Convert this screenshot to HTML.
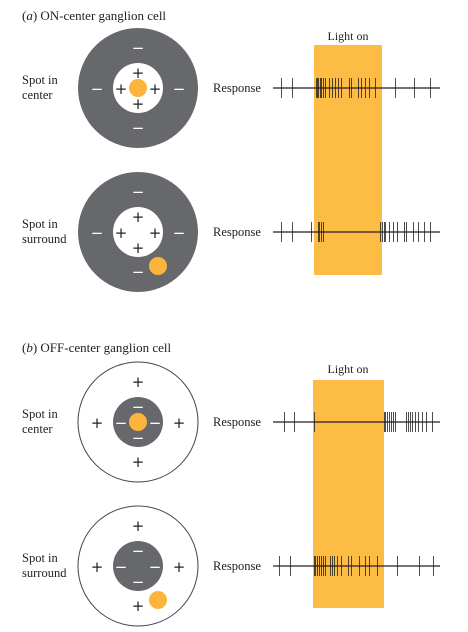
<!DOCTYPE html>
<html><head><meta charset="utf-8"><style>
html,body{margin:0;padding:0;background:#fff}
svg{display:block}
text{font-family:"Liberation Serif",serif;fill:#222}
</style></head><body>
<svg width="468" height="632" viewBox="0 0 468 632">
<g id="g"></g>
</svg>
<script>
const rowY=[88,232,422,566];
const row1Spikes=[281,292,316,317,318,320,321,323,325,329,332,335,338,341,349,351,358,361,365,369,375,395,414,430];
const row2Spikes=[281,292,311,318,319,321,323,380,382,384,385,389,393,397,404,406,413,418,424,430];
const row3Spikes=[284,294,314,384,385,387,389,391,393,395,406,408,410,412,415,418,422,426,432];
const row4Spikes=[279,290,314,315,317,319,321,323,325,330,332,334,337,341,348,351,359,365,369,377,397,419,433];
const allSpikes=[row1Spikes,row2Spikes,row3Spikes,row4Spikes];
const NS='http://www.w3.org/2000/svg';
const g=document.getElementById('g');
function mk(t,a,p){const e=document.createElementNS(NS,t);for(const k in a)e.setAttribute(k,a[k]);(p||g).appendChild(e);return e;}
function tx(x,y,s,size,anchor,fill,fam){const e=mk('text',{x:x,y:y,'font-size':size||13,'text-anchor':anchor||'start'});let st='';if(fill)st+='fill:'+fill+';';if(fam)st+='font-family:'+fam+';';if(st)e.setAttribute('style',st);e.textContent=s;return e;}
let r=mk('rect',{x:314,y:45,width:68,height:230,fill:'#fdbd45'});


r=mk('rect',{x:313,y:380,width:71,height:228,fill:'#fdbd45'});


let t=tx(348,40,'Light on',12,'middle');


t=tx(348,373,'Light on',12,'middle');


t=tx(22,20,'',13);t.innerHTML='(<tspan font-style="italic">a</tspan>)  ON-center ganglion cell';


t=tx(22,352,'',13);t.innerHTML='(<tspan font-style="italic">b</tspan>)  OFF-center ganglion cell';


const labels=[['Spot in','center'],['Spot in','surround'],['Spot in','center'],['Spot in','surround']];
rowY.forEach((y,i)=>{
  let a=tx(22,y-4,labels[i][0],12.5);
  
  
  tx(22,y+11,labels[i][1],12.5);
  let rp=tx(213,y+4,'Response',12.5);
  
  
  let ln=mk('line',{x1:273,x2:440,y1:y,y2:y,stroke:'#222','stroke-width':1.2});
  
  
  allSpikes[i].forEach(x=>{
    let s=mk('line',{x1:x+0.5,x2:x+0.5,y1:y-10,y2:y+10,stroke:'#222','stroke-width':0.8});
    
    
  });
  const on=i<2, cx=138;
  let o=mk('circle',{cx:cx,cy:y,r:60,fill:on?'#67686b':'#fff',stroke:on?'none':'#444','stroke-width':1});
  
  
  let c=mk('circle',{cx:cx,cy:y,r:25,fill:on?'#fff':'#67686b'});
  
  
  const inSign=on?'+':'−', outSign=on?'−':'+';
  const inCol=on?'#222':'#fff', outCol=on?'#fff':'#222';
  const F='"DejaVu Sans",sans-serif';
  [[0,-15],[-17,1],[17,1],[0,16]].forEach(d=>tx(cx+d[0],y+d[1]+5,inSign,15,'middle',inCol,F));
  [[0,-40],[-41,1],[41,1],[0,40]].forEach(d=>tx(cx+d[0],y+d[1]+5,outSign,15,'middle',outCol,F));
  let dot=(i%2===0)?mk('circle',{cx:cx,cy:y,r:9,fill:'#fdb43c'}):mk('circle',{cx:158,cy:y+34,r:9,fill:'#fdb43c'});
  
  
});
</script>
</body></html>
